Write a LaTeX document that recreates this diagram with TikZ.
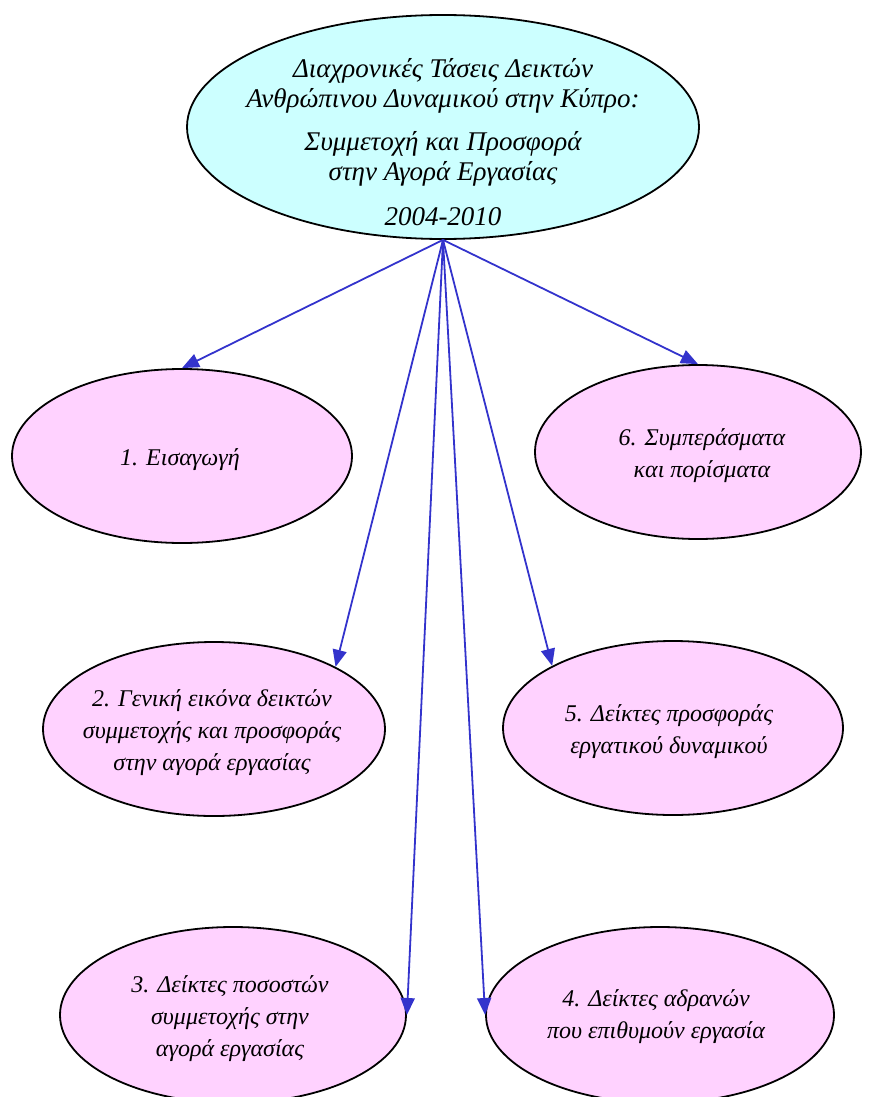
\documentclass[tikz,border=0pt]{standalone}
\usepackage{fontspec}
\setmainfont{Liberation Serif}
\usetikzlibrary{shapes.geometric,arrows.meta}
\definecolor{topfill}{RGB}{204,255,255}
\definecolor{subfill}{RGB}{255,210,255}
\definecolor{arrowblue}{RGB}{51,51,204}
\tikzset{
  bub/.style={ellipse, draw=black, line width=1.8pt, inner sep=0pt},
  txt/.style={align=center, font=\itshape\fontsize{24}{32}\selectfont, inner sep=0pt},
  toptxt/.style={align=center, font=\itshape\fontsize{27}{30}\selectfont, inner sep=0pt},
  conn/.style={draw=arrowblue, line width=1.8pt, -{Triangle[length=17pt,width=14pt]}},
}
\begin{document}
\begin{tikzpicture}[x=1pt,y=-1pt]
\useasboundingbox (0,0) rectangle (871,1097);
\clip (0,0) rectangle (871,1097);
\node[bub, fill=topfill, minimum width=512pt, minimum height=224pt] (top) at (443,127) {};
\node[toptxt] (topT) at (443,142) {Διαχρονικές Τάσεις Δεικτών\\ Ανθρώπινου Δυναμικού στην Κύπρο:\\[13pt] Συμμετοχή και Προσφορά\\ στην Αγορά Εργασίας\\[15pt] 2004-2010};

\node[bub, fill=subfill, minimum width=340pt, minimum height=174pt] (e1) at (182,456) {};
\node[txt] (e1T) at (180,460) {1. Εισαγωγή};

\node[bub, fill=subfill, minimum width=326pt, minimum height=174pt] (e6) at (698,452) {};
\node[txt] (e6T) at (702,456) {6. Συμπεράσματα\\ και πορίσματα};

\node[bub, fill=subfill, minimum width=342pt, minimum height=174pt] (e2) at (214,729) {};
\node[txt] (e2T) at (212,733) {2. Γενική εικόνα δεικτών\\ συμμετοχής και προσφοράς\\ στην αγορά εργασίας};

\node[bub, fill=subfill, minimum width=340pt, minimum height=174pt] (e5) at (673,728) {};
\node[txt] (e5T) at (669,732) {5. Δείκτες προσφοράς\\ εργατικού δυναμικού};

\node[bub, fill=subfill, minimum width=346pt, minimum height=176pt] (e3) at (233,1015) {};
\node[txt] (e3T) at (230,1019) {3. Δείκτες ποσοστών\\ συμμετοχής στην\\ αγορά εργασίας};

\node[bub, fill=subfill, minimum width=348pt, minimum height=176pt] (e4) at (660,1015) {};
\node[txt] (e4T) at (656,1017) {4. Δείκτες αδρανών\\ που επιθυμούν εργασία};

\draw[conn] (top.south) -- (e1.north);
\draw[conn] (top.south) -- (e6.north);
\draw[conn] (top.south) -- (e2.north east);
\draw[conn] (top.south) -- (e5.north west);
\draw[conn] (top.south) -- (e3.east);
\draw[conn] (top.south) -- (e4.west);
\end{tikzpicture}
\end{document}
